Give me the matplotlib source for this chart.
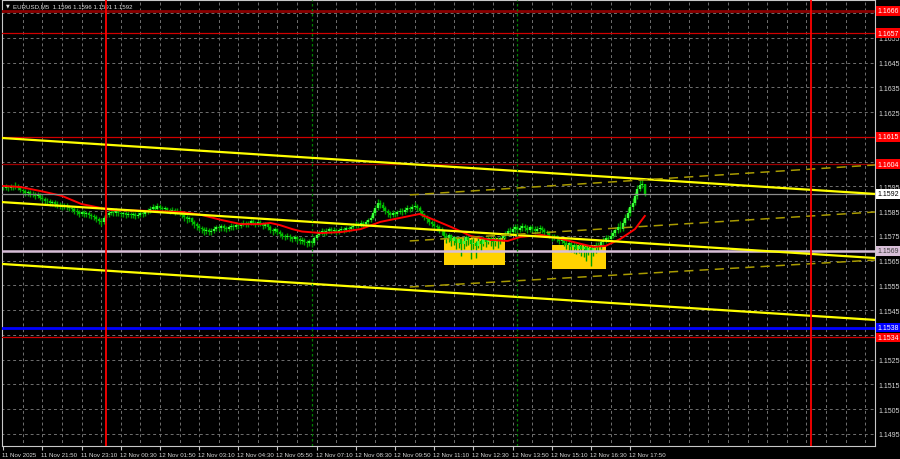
import matplotlib
matplotlib.use("Agg")
import matplotlib.pyplot as plt
import matplotlib.transforms as mtrans
import numpy as np

# prices are stored in points (1e-5) above 1.15000
base = 1.15
first_open = 942
closes_pts = [
    945, 948, 942, 950, 946, 952, 944, 936, 930, 922,
    926, 918, 920, 912, 916, 905, 898, 892, 890, 882,
    886, 880, 876, 872, 866, 874, 868, 862, 858, 852,
    846, 840, 846, 838, 842, 834, 830, 826, 820, 812,
    808, 822, 836, 844, 848, 842, 850, 844, 838, 842,
    836, 840, 834, 838, 832, 836, 844, 838, 846, 852,
    858, 866, 860, 870, 864, 858, 862, 854, 850, 856,
    848, 852, 842, 836, 826, 818, 822, 806, 798, 790,
    784, 778, 770, 776, 766, 772, 780, 786, 782, 790,
    784, 778, 786, 792, 786, 796, 790, 798, 804, 796,
    802, 810, 804, 798, 806, 800, 792, 798, 786, 776,
    770, 778, 768, 760, 752, 746, 752, 744, 738, 744,
    736, 730, 734, 726, 720, 728, 722, 740, 756, 766,
    770, 764, 772, 778, 770, 776, 768, 774, 780, 774,
    782, 778, 786, 792, 798, 794, 802, 798, 806, 814,
    824, 842, 862, 884, 876, 864, 850, 842, 836, 844,
    838, 846, 852, 848, 856, 862, 858, 868, 872, 862,
    850, 838, 826, 818, 808, 800, 792, 786, 778, 770,
    752, 740, 756, 730, 744, 722, 736, 716, 728, 744,
    732, 716, 722, 710, 730, 718, 736, 726, 742, 730,
    724, 738, 728, 740, 748, 760, 772, 766, 778, 786,
    776, 782, 790, 784, 776, 786, 780, 772, 778, 784,
    776, 768, 762, 752, 744, 750, 738, 730, 736, 722,
    712, 720, 704, 714, 698, 710, 696, 704, 688, 700,
    690, 702, 714, 708, 724, 732, 740, 736, 752, 762,
    774, 788, 780, 804, 824, 842, 866, 884, 912, 940,
    958, 960, 920,
]
highs_pts = [
    956, 960, 956, 962, 958, 968, 960, 950, 944, 938,
    936, 934, 930, 928, 926, 922, 914, 906, 902, 898,
    896, 894, 890, 886, 882, 884, 882, 876, 872, 866,
    862, 856, 856, 854, 852, 850, 844, 840, 834, 828,
    822, 830, 846, 856, 862, 856, 862, 858, 852, 852,
    850, 850, 848, 848, 846, 846, 854, 852, 856, 862,
    870, 878, 874, 882, 878, 872, 872, 868, 862, 866,
    862, 862, 858, 850, 842, 834, 830, 828, 814, 806,
    798, 792, 786, 786, 784, 782, 790, 796, 796, 800,
    798, 792, 796, 802, 800, 806, 804, 808, 816, 812,
    812, 820, 818, 812, 816, 814, 808, 808, 804, 794,
    784, 788, 784, 776, 768, 760, 762, 758, 752, 754,
    752, 744, 744, 740, 734, 738, 736, 748, 766, 776,
    782, 778, 784, 788, 786, 786, 782, 784, 792, 788,
    792, 790, 796, 802, 810, 808, 814, 812, 816, 824,
    836, 854, 874, 900, 894, 886, 872, 860, 852, 854,
    852, 856, 864, 862, 866, 874, 872, 880, 886, 880,
    870, 856, 844, 834, 826, 816, 810, 800, 796, 786,
    776, 762, 764, 760, 752, 750, 746, 742, 744, 754,
    750, 738, 740, 730, 742, 738, 748, 746, 752, 750,
    742, 748, 746, 752, 760, 772, 784, 788, 792, 798,
    796, 794, 804, 800, 794, 796, 794, 790, 790, 796,
    792, 784, 776, 770, 760, 760, 756, 746, 746, 744,
    732, 730, 726, 724, 720, 720, 716, 714, 710, 714,
    708, 712, 724, 724, 734, 746, 754, 756, 766, 774,
    788, 804, 810, 818, 840, 862, 880, 904, 928, 956,
    978, 982, 960,
]
lows_pts = [
    934, 936, 932, 936, 936, 940, 934, 926, 920, 912,
    910, 906, 908, 900, 902, 894, 886, 880, 878, 870,
    872, 868, 864, 860, 854, 858, 856, 850, 846, 840,
    834, 828, 830, 826, 828, 822, 818, 814, 806, 798,
    790, 798, 814, 828, 834, 830, 832, 832, 826, 828,
    824, 826, 822, 824, 820, 822, 826, 828, 830, 838,
    844, 850, 850, 852, 854, 848, 848, 842, 838, 842,
    836, 838, 830, 822, 812, 804, 806, 794, 784, 776,
    770, 764, 756, 760, 754, 756, 764, 770, 770, 772,
    772, 766, 770, 776, 776, 780, 780, 782, 790, 786,
    788, 794, 794, 788, 790, 790, 780, 784, 774, 762,
    756, 762, 754, 746, 738, 732, 736, 730, 724, 728,
    722, 716, 718, 712, 706, 710, 706, 712, 734, 748,
    756, 752, 756, 762, 760, 762, 756, 760, 766, 764,
    766, 768, 770, 776, 782, 784, 786, 788, 790, 798,
    806, 818, 834, 854, 862, 852, 840, 828, 822, 826,
    826, 830, 838, 836, 840, 846, 846, 850, 858, 850,
    840, 826, 814, 804, 796, 786, 780, 772, 764, 756,
    736, 720, 726, 710, 714, 698, 700, 668, 698, 710,
    714, 658, 698, 660, 700, 688, 708, 704, 716, 708,
    698, 710, 702, 716, 728, 736, 750, 754, 758, 764,
    764, 766, 772, 772, 764, 768, 768, 760, 762, 768,
    764, 754, 748, 740, 730, 732, 724, 716, 718, 708,
    696, 690, 686, 682, 676, 680, 670, 664, 648, 672,
    628, 668, 680, 688, 698, 710, 720, 724, 730, 740,
    752, 764, 768, 772, 796, 814, 832, 854, 874, 900,
    930, 942, 910,
]

# red moving average, read at a few bars
ma_bars = [0, 7, 16, 24, 32, 40, 44, 60, 73, 81, 89, 97, 105, 109, 113, 118,
           122, 130, 138, 146, 154, 162, 170, 175, 183, 191, 199, 206, 211,
           220, 228, 236, 241, 246, 252, 258, 262]
ma_pts = [952, 948, 930, 912, 879, 863, 855, 851, 847, 835, 815, 798, 798, 803,
          794, 778, 768, 762, 766, 778, 807, 823, 839, 819, 786, 750, 734, 730,
          746, 754, 738, 718, 706, 710, 738, 778, 831]

# time axis labels (every 16 bars of M5)
xtick_bars = list(range(0, 257, 16))
xtick_labels = ["11 Nov 2025", "11 Nov 21:50", "11 Nov 23:10", "12 Nov 00:30",
                "12 Nov 01:50", "12 Nov 03:10", "12 Nov 04:30", "12 Nov 05:50",
                "12 Nov 07:10", "12 Nov 08:30", "12 Nov 09:50", "12 Nov 11:10",
                "12 Nov 12:30", "12 Nov 13:50", "12 Nov 15:10", "12 Nov 16:30",
                "12 Nov 17:50"]
price_grid = [1.1495 + 0.001 * k for k in range(18)]
# grid prices whose label is hidden behind a level label
hidden_ticks = [1.1665, 1.1615, 1.1605, 1.1535]

# horizontal levels: price, line colour, width, label bg, label text colour
levels = [
    (1.1666, "#8b0000", 2.0, "#ff0000", "#ffffff"),
    (1.1657, "#d00000", 0.9, "#ff0000", "#ffffff"),
    (1.1615, "#d00000", 0.9, "#ff0000", "#ffffff"),
    (1.1604, "#a00000", 0.9, "#ff0000", "#ffffff"),
    (1.1592, "#8c8c8c", 0.9, "#ffffff", "#000000"),
    (1.1569, "#d8bfd8", 1.8, "#d8bfd8", "#404040"),
    (1.1538, "#0000ff", 2.0, "#0000ff", "#ffffff"),
    (1.1534, "#d00000", 0.9, "#ff0000", "#ffffff"),
]

# trend channel (solid) and dashed lines: (bar0, price0, bar1, price1)
channel = [
    (-0.5, 1.16146, 356.0, 1.15920),
    (-0.5, 1.15887, 356.0, 1.15661),
    (-0.5, 1.15637, 356.0, 1.15411),
]
dashed = [
    (166, 1.15916, 356.0, 1.16037),
    (166, 1.15730, 356.0, 1.15847),
    (166, 1.15544, 356.0, 1.15653),
]
# yellow boxes: bar0, bar1, low, high
boxes = [(180, 205, 1.15633, 1.15742), (224, 246, 1.15617, 1.15714)]
red_vlines = [42, 330]
green_vlines = [126, 210]

closes = base + np.array(closes_pts) / 1e5
highs = base + np.array(highs_pts) / 1e5
lows = base + np.array(lows_pts) / 1e5
opens = np.concatenate([[base + first_open / 1e5], closes[:-1]])
idx = np.arange(len(closes))

fig = plt.figure(figsize=(9, 4.6), dpi=100, facecolor="black")
ax = fig.add_axes([2 / 900, 13 / 460, 873 / 900, 446 / 460])
ax.set_facecolor("black")
ax.set_xlim(-0.5, 356.0)
ax.set_ylim(1.1495 - 12 / 24750, 1.1495 + 434 / 24750)

# grid
grid_kw = dict(color="#707070", lw=0.7, linestyles=(0, (3, 3)), zorder=0.5)
ax.vlines(range(8, 357, 8), 1.14, 1.17, **grid_kw)
ax.hlines(price_grid, -1, 357, **grid_kw)

for b0, b1, lo, hi in boxes:
    ax.fill_between([b0, b1], lo, hi, color="#ffd200", lw=0, zorder=1)

# candles
up = closes >= opens
ax.vlines(idx, lows, highs, color="#00a000", lw=1.0, zorder=2)
ax.vlines(idx[up], opens[up], closes[up], color="#3cff3c", lw=1.7, zorder=2.1)
ax.vlines(idx[~up], opens[~up], closes[~up], color="#00c400", lw=1.7, zorder=2.1)

ma = base + np.array(ma_pts) / 1e5
ax.plot(ma_bars, ma, color="#ff0000", lw=1.4, zorder=3)

for p, c, w, bg, tc in levels:
    ax.axhline(p, color=c, lw=w, zorder=3.5)

for b0, p0, b1, p1 in channel:
    ax.plot([b0, b1], [p0, p1], color="#ffff00", lw=1.6, zorder=4)
for b0, p0, b1, p1 in dashed:
    ax.plot([b0, b1], [p0, p1], color="#a89a00", lw=1.1, ls=(0, (6, 4)), zorder=4)

for b in red_vlines:
    ax.axvline(b, color="#ff0000", lw=1.3, zorder=4)
for b in green_vlines:
    ax.axvline(b, color="#008000", lw=0.9, ls=(0, (2, 2)), zorder=4)

for s in ax.spines.values():
    s.set_color("#c8c8c8")
    s.set_linewidth(0.8)

shown = [p for p in price_grid if min(abs(p - h) for h in hidden_ticks) > 1e-6]
ax.yaxis.tick_right()
ax.set_yticks(shown)
ax.set_yticklabels([f"{p:.4f}" for p in shown], fontsize=5.0,
                   color="#d8d8d8", family="Liberation Sans")
ax.tick_params(axis="y", length=0, pad=2.5)
ax.set_xticks(xtick_bars)
ax.set_xticklabels(xtick_labels, fontsize=4.4, color="#d8d8d8",
                   family="Liberation Sans", ha="left")
ax.tick_params(axis="x", length=3, color="#c8c8c8", pad=1.5)
for lab in ax.get_xticklabels():
    lab.set_transform(lab.get_transform() + mtrans.ScaledTranslation(-1 / 100, 0, fig.dpi_scale_trans))

tr = mtrans.blended_transform_factory(ax.transAxes, ax.transData)
for p, c, w, bg, tc in levels:
    ax.text(1.0025, p, f"{p:.4f}", transform=tr, ha="left", va="center",
            fontsize=5.0, color=tc, family="Liberation Sans", zorder=10,
            bbox=dict(boxstyle="square,pad=0.2", fc=bg, ec="none"))

ax.text(0.004, 0.988, "\u25bc", transform=ax.transAxes, fontsize=3.5,
        color="#e0e0e0", va="center", ha="left", family="DejaVu Sans")
ax.text(0.013, 0.988, "EURUSD,M5  1.1596 1.1596 1.1591 1.1592",
        transform=ax.transAxes, fontsize=4.4, color="#e0e0e0", va="center",
        ha="left", family="Liberation Sans")

fig.savefig("out.png", dpi=100, facecolor="black")
